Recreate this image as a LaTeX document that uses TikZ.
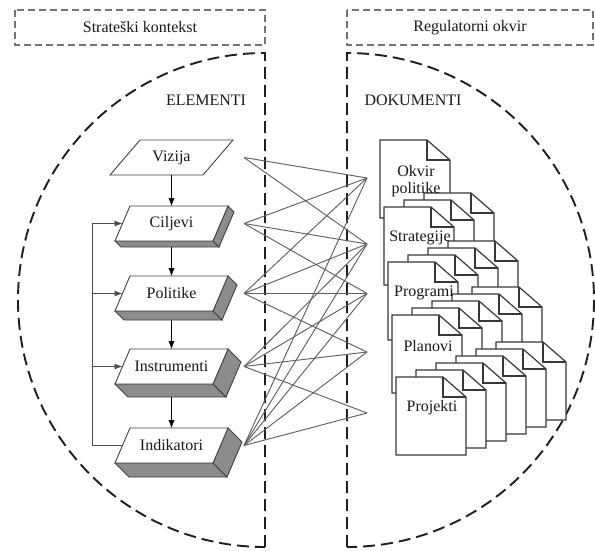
\documentclass[tikz,border=0pt]{standalone}
\usepackage{fontspec}
\setmainfont{Liberation Serif}
\usetikzlibrary{arrows.meta}

\begin{document}
\begin{tikzpicture}[x=1pt,y=-1pt,font=\fontsize{16}{17}\selectfont,text=black!90,
  >={Latex[length=8pt,width=6pt]},
  framebox/.style={draw=black!55,line width=1.2pt,dash pattern=on 7pt off 4pt},
  halfdisc/.style={draw=black!88,line width=1.9pt,dash pattern=on 12pt off 6pt},
  face/.style={fill=white,draw=black!75,line width=0.9pt},
  side/.style={fill=black!45,draw=black!75,line width=0.9pt},
  link/.style={draw=black!62,line width=0.95pt},
  page/.style={fill=white,draw=black!78,line width=1.2pt}]
  \useasboundingbox (0,0) rectangle (595,551);

  % headers
  \draw[framebox] (15,10) rectangle (265,45);
  \node (ctx) at (140,27.5) {Strateški kontekst};
  \draw[framebox] (347,10) rectangle (593,45);
  \node (reg) at (470,27.5) {Regulatorni okvir};

  % the two dashed half discs
  \draw[halfdisc] (265,547) -- (265,53) arc[start angle=270,end angle=90,radius=247];
  \draw[halfdisc] (347,547) -- (347,53) arc[start angle=270,end angle=450,radius=247];
  \node (elem) at (206,100) {ELEMENTI};
  \node (dok) at (413,100) {DOKUMENTI};

  % elements
  \draw[face] (140,140) -- (233,140) -- (203,175) -- (110,175) -- cycle;
  \node (viz) at (171.5,157.5) {Vizija};
  \coordinate (viz-bot) at (171.5,175);
  \coordinate (viz-out) at (244,157.5);
  \foreach \nm/\lab/\t/\d in {cilj/Ciljevi/206/6,poli/Politike/276/9,inst/Instrumenti/349/13,indi/Indikatori/428/14}{
    \draw[side] (115,\t+35) -- (213,\t+35) -- (213+\d,\t+35+\d) -- (115+\d,\t+35+\d) -- cycle;
    \draw[side] (228,\t) -- (228+\d,\t+\d) -- (213+\d,\t+35+\d) -- (213,\t+35) -- cycle;
    \draw[face] (130,\t) -- (228,\t) -- (213,\t+35) -- (115,\t+35) -- cycle;
    \node (\nm) at (171.5,\t+17.5) {\lab};
    \coordinate (\nm-in) at (122.5,\t+17.5);
    \coordinate (\nm-top) at (171.5,\t);
    \coordinate (\nm-bot) at (171.5,\t+35+\d);
    \coordinate (\nm-out) at (244,\t+17.5);
  }
  \draw[->] (viz-bot) -- (cilj-top);
  \draw[->] (cilj-bot) -- (poli-top);
  \draw[->] (poli-bot) -- (inst-top);
  \draw[->] (inst-bot) -- (indi-top);

  % feedback line
  \coordinate (fb-top) at (92,223.5);
  \coordinate (fb-bot) at (92,445.5);
  \draw[black!70,line width=0.9pt] (fb-top) -- (fb-bot) -- (indi-in);
  \foreach \nm in {cilj,poli,inst}
    \draw[->,black!70,line width=0.9pt] (fb-top |- \nm-in) -- (\nm-in);

  % documents, back to front
  \foreach \x/\y/\n in {380/140/0,384/207/2,388/262/3,392/315/4,396/377/5}{
    \foreach \k in {\n,...,0}{
      \begin{scope}[shift={(\x+20*\k,\y-7*\k)}]
        \draw[page] (0,0) -- (47,0) -- (70,20) -- (70,78) -- (0,78) -- cycle;
        \draw[page,fill=none] (47,0) -- (47,20) -- (70,20);
      \end{scope}
    }
  }
  \node[align=center] (okvir) at (416,181) {Okvir\\politike};
  \node (strat) at (420,238) {Strategije};
  \node (prog) at (424,293) {Programi};
  \node (plan) at (428,346) {Planovi};
  \node (proj) at (432,408) {Projekti};

  % links between elements and documents
  \coordinate (d1) at (367,178);
  \coordinate (d2) at (367,244);
  \coordinate (d3) at (367,293.5);
  \coordinate (d4) at (367,352);
  \coordinate (d5) at (367,413);
  \foreach \a/\b in {viz/1,viz/2,cilj/1,cilj/2,cilj/3,poli/1,poli/2,poli/3,poli/4,
                     inst/2,inst/3,inst/4,inst/5,indi/1,indi/2,indi/3,indi/4,indi/5}
    \draw[link] (\a-out) -- (d\b);
\end{tikzpicture}
\end{document}
